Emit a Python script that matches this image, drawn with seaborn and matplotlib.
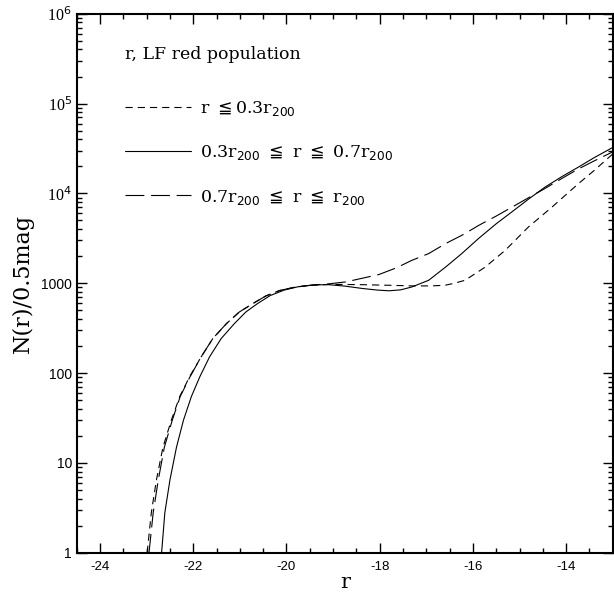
import numpy as np
import pandas as pd
import seaborn as sns
import matplotlib.pyplot as plt
from matplotlib.ticker import FixedLocator, FixedFormatter, LogLocator, NullFormatter, MultipleLocator

# values (r magnitude, N(r)/0.5mag)
inner_x = [-22.99, -22.90, -22.79, -22.65, -22.47, -22.29, -22.08, -21.83, -21.58, -21.29, -21.01,
           -20.72, -20.45, -20.15, -19.8, -19.45, -19.1, -18.75, -18.4, -17.8, -17.3, -16.9,
           -16.6, -16.4, -16.17, -15.74, -15.31, -14.81, -14.31, -13.74, -13.4, -13.0]
inner_y = [1, 2.8, 6.5, 15, 30, 55, 91, 152, 243, 355, 480, 595, 720, 830, 910, 950, 970, 970,
           965, 950, 935, 935, 950, 1000, 1080, 1510, 2320, 4230, 7000, 12800, 18000, 27500]

mid_x = [-22.68, -22.61, -22.50, -22.36, -22.21, -22.04, -21.86, -21.65, -21.40, -21.12, -20.87,
         -20.62, -20.35, -20.05, -19.75, -19.4, -19.1, -18.75, -18.37, -18.05, -17.8, -17.55,
         -17.31, -16.95, -16.59, -16.24, -15.88, -15.5, -15.17, -14.8, -14.46, -14.1, -13.74,
         -13.4, -13.0]
mid_y = [1, 2.8, 6.5, 15, 30, 55, 91, 152, 243, 355, 480, 595, 730, 840, 915, 960, 965, 930,
         875, 840, 825, 845, 910, 1080, 1510, 2140, 3150, 4600, 6200, 8700, 11700, 15300, 19600,
         25000, 32500]

outer_x = [-22.95, -22.86, -22.75, -22.62, -22.45, -22.28, -22.07, -21.83, -21.58, -21.29, -21.01,
           -20.72, -20.45, -20.15, -19.8, -19.45, -19.1, -18.73, -18.4, -18.02, -17.65, -17.31,
           -16.95, -16.59, -16.2, -15.88, -15.5, -15.17, -14.8, -14.46, -14.1, -13.74, -13.4,
           -13.0]
outer_y = [1, 2.8, 6.5, 15, 30, 55, 91, 152, 243, 355, 480, 595, 720, 830, 910, 955, 985, 1035,
           1130, 1250, 1480, 1800, 2140, 2760, 3500, 4400, 5600, 7000, 9000, 11300, 14600, 18700,
           23000, 29000]

labels = [r"r $\leqq$0.3r$_{200}$",
          r"0.3r$_{200}$ $\leqq$ r $\leqq$ 0.7r$_{200}$",
          r"0.7r$_{200}$ $\leqq$ r $\leqq$ r$_{200}$"]

xticks = [-24, -22, -20, -18, -16, -14]
xtick_labels = ["-24", "-22", "-20", "-18", "-16", "-14"]
yticks = [1, 10, 100, 1000, 1e4, 1e5, 1e6]
ytick_labels = ["1", "10", "100", "1000", r"10$^4$", r"10$^5$", r"10$^6$"]

df = pd.concat([
    pd.DataFrame({"r": inner_x, "N": inner_y, "bin": labels[0]}),
    pd.DataFrame({"r": mid_x, "N": mid_y, "bin": labels[1]}),
    pd.DataFrame({"r": outer_x, "N": outer_y, "bin": labels[2]}),
])

sns.set_style("ticks")
plt.rcParams["font.family"] = ["DejaVu Serif"]
plt.rcParams["axes.unicode_minus"] = False
plt.rcParams["mathtext.fontset"] = "dejavusans"
for k in ["text.color", "axes.labelcolor", "xtick.color", "ytick.color", "axes.edgecolor"]:
    plt.rcParams[k] = "black"

fig = plt.figure(figsize=(6.14, 5.97), dpi=100)
ax = fig.add_axes([0.125, 0.074, 0.873, 0.903])

sns.lineplot(data=df, x="r", y="N", style="bin", hue="bin",
             palette=["black"] * 3, sort=False, estimator=None, linewidth=0.8,
             dashes={labels[0]: (6.5, 4.5), labels[1]: "", labels[2]: (17, 6)},
             ax=ax)

ax.set_yscale("log")
ax.set_xlim(-24.5, -13)
ax.set_ylim(1, 1e6)

ax.xaxis.set_major_locator(FixedLocator(xticks))
ax.xaxis.set_major_formatter(FixedFormatter(xtick_labels))
ax.xaxis.set_minor_locator(MultipleLocator(0.5))
ax.yaxis.set_major_locator(FixedLocator(yticks))
ax.yaxis.set_major_formatter(FixedFormatter(ytick_labels))
ax.yaxis.set_minor_locator(LogLocator(base=10, subs=np.arange(2, 10)))
ax.yaxis.set_minor_formatter(NullFormatter())

ax.tick_params(which="both", direction="in", top=True, right=True, width=1.0)
ax.tick_params(which="major", length=7)
ax.tick_params(which="minor", length=3.5)
ax.tick_params(axis="x", labelsize=9.5, pad=6)
ax.tick_params(axis="y", labelsize=10)
for s in ax.spines.values():
    s.set_linewidth(1.5)
for t in ax.get_xticklabels() + ax.get_yticklabels()[:4]:
    t.set_fontfamily(["Liberation Sans", "DejaVu Sans"])
for t in ax.get_yticklabels()[4:]:
    t.set_fontfamily(["Liberation Serif", "DejaVu Serif"])
    t.set_fontsize(11.5)

ax.set_xlabel("r", fontsize=15, labelpad=0)
ax.set_ylabel("N(r)/0.5mag", fontsize=16, labelpad=5)

handles, _ = ax.get_legend_handles_labels()
leg = ax.legend(handles, labels, title="r, LF red population", loc="upper left",
                bbox_to_anchor=(0.09, 0.94), frameon=False, fontsize=12.5, title_fontsize=12.5,
                handlelength=3.8, handletextpad=0.5, labelspacing=1.45, borderpad=0,
                borderaxespad=0, alignment="left")
leg._legend_box.sep = 26

fig.savefig("out.png", dpi=100)
